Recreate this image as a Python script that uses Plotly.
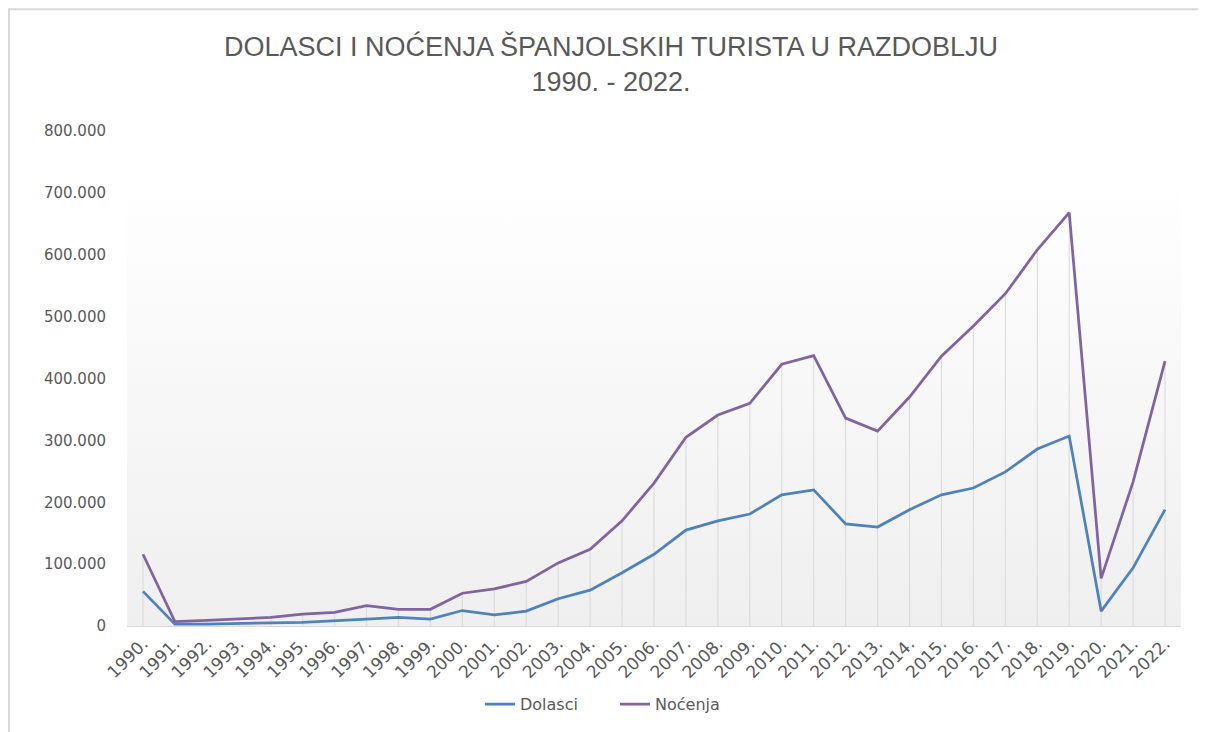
import base64
import plotly.graph_objects as go

years = [str(y) + "." for y in range(1990, 2023)]

dolasci = [56000, 3000, 3000, 3500, 5000, 6000, 8000, 11000, 14000, 11000,
           25000, 18000, 24000, 44000, 58000, 86000, 116000, 155000, 170000, 181000,
           212000, 220000, 165000, 160000, 188000, 212000, 223000, 249000, 286000, 307000,
           24000, 94000, 188000]

nocenja = [116000, 7000, 9000, 11000, 14000, 19000, 22000, 33000, 27000, 27000,
           53000, 60000, 72000, 102000, 124000, 170000, 231000, 305000, 341000, 360000,
           423000, 437000, 336000, 315000, 370000, 436000, 485000, 537000, 608000, 668000,
           77000, 233000, 428000]

grey = "#595959"

# drop lines from the higher series down to the axis
drop_x, drop_y = [], []
for yr, d, n in zip(years, dolasci, nocenja):
    drop_x += [yr, yr, None]
    drop_y += [0, max(d, n), None]

fig = go.Figure()
fig.add_trace(go.Scatter(x=drop_x, y=drop_y, mode="lines",
                         line=dict(color="#d9d9d9", width=1),
                         showlegend=False, hoverinfo="skip"))
fig.add_trace(go.Scatter(x=years, y=dolasci, name="Dolasci", mode="lines",
                         line=dict(color="#4F81BD", width=2.75)))
fig.add_trace(go.Scatter(x=years, y=nocenja, name="Noćenja", mode="lines",
                         line=dict(color="#8064A2", width=2.75)))

# gradient plot background (white -> light grey)
svg = ('<svg xmlns="http://www.w3.org/2000/svg" width="100" height="100" preserveAspectRatio="none">'
       '<defs><linearGradient id="g" x1="0" y1="0" x2="0" y2="1">'
       '<stop offset="0.1" stop-color="#ffffff"/><stop offset="1" stop-color="#efefef"/>'
       '</linearGradient></defs><rect width="100" height="100" fill="url(#g)"/></svg>')
bg = "data:image/svg+xml;base64," + base64.b64encode(svg.encode()).decode()

fig.update_layout(
    width=1206, height=732,
    margin=dict(l=119, r=33, t=123, b=114),
    paper_bgcolor="white",
    plot_bgcolor="rgba(0,0,0,0)",
    separators=",.",
    font=dict(family="DejaVu Sans", color=grey),
    title=dict(text="DOLASCI I NOĆENJA ŠPANJOLSKIH TURISTA U RAZDOBLJU<br>1990. - 2022.",
               x=0.5, xanchor="center", y=0.935, yanchor="middle",
               font=dict(family="Liberation Sans Narrow, Liberation Sans", size=27, color=grey)),
    images=[dict(source=bg, xref="paper", yref="paper", x=0, y=1, sizex=1, sizey=1,
                 xanchor="left", yanchor="top", sizing="stretch", layer="below")],
    xaxis=dict(type="category", range=[-0.5, 32.5], showgrid=False, zeroline=False,
               showline=True, linecolor="#d9d9d9", linewidth=1,
               tickangle=-45, tickfont=dict(size=17, color=grey)),
    yaxis=dict(range=[0, 800000], dtick=100000, tickformat=",.0f", showgrid=False,
               zeroline=False, showline=False, ticklabelstandoff=20,
               tickfont=dict(size=15, color=grey)),
    legend=dict(orientation="h", x=0.463, xanchor="center", y=-0.158, yanchor="middle",
                entrywidth=90, font=dict(size=16, color=grey), bgcolor="rgba(0,0,0,0)"),
    shapes=[dict(type="rect", xref="paper", yref="paper", x0=-0.112, x1=1.05,
                 y0=-0.3, y1=1.246, line=dict(color="#d9d9d9", width=2),
                 fillcolor="rgba(0,0,0,0)", layer="below")],
)

fig.write_html("out.html")
